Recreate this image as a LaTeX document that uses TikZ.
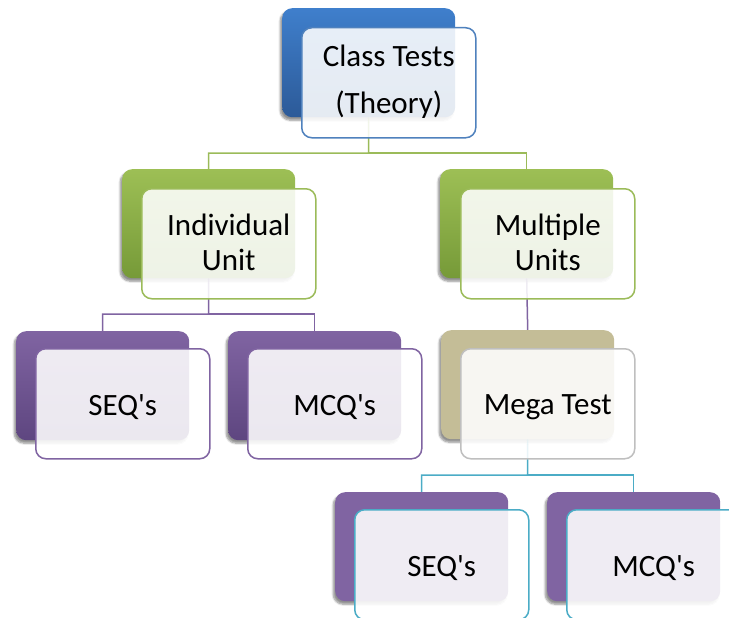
\documentclass[tikz,border=0pt]{standalone}
\usepackage{fontspec}
\setmainfont{Carlito}
\usetikzlibrary{shadows.blur}
\definecolor{bluetop}{HTML}{3F7FCC}
\definecolor{bluebot}{HTML}{2C5A98}
\definecolor{blueline}{HTML}{4F81BD}
\definecolor{greentop}{HTML}{9DBF55}
\definecolor{greenbot}{HTML}{769A38}
\definecolor{greenline}{HTML}{9BBB59}
\definecolor{purptop}{HTML}{8064A2}
\definecolor{purpbot}{HTML}{5E4680}
\definecolor{purpline}{HTML}{8064A2}
\definecolor{tanfill}{HTML}{C4BD97}
\definecolor{grayline}{HTML}{BFBFBF}
\definecolor{cyanline}{HTML}{4BACC6}
\begin{document}
\begin{tikzpicture}[x=1pt,y=-1pt,
  backbox/.style={rounded corners=10pt, minimum width=173pt, minimum height=109pt,
    inner sep=0pt, anchor=north west,
    blur shadow={shadow xshift=-2pt, shadow yshift=-3pt, shadow opacity=25, shadow blur steps=6}},
  frontbox/.style={rounded corners=10pt, minimum width=174pt, minimum height=110pt,
    inner sep=0pt, anchor=north west, fill=white, fill opacity=0.88,
    line width=1.5pt},
  txt/.style={align=center, inner sep=0pt, text=black,
    font=\fontsize{31}{35}\selectfont},
  onetxt/.style={txt, yshift=-3pt},
  twotxt/.style={txt, yshift=1pt},
  conn/.style={line width=1.5pt}]
\clip (0,0) rectangle (729,618);
\useasboundingbox (0,0) rectangle (729,618);

% back box positions
\path
  (282,8)   node[backbox, name=ctB] {}
  (122,169) node[backbox, name=iuB] {}
  (440,169) node[backbox, name=muB] {}
  (16,331)  node[backbox, name=s1B] {}
  (228,331) node[backbox, name=m1B] {}
  (441,330) node[backbox, name=mtB] {}
  (335,492) node[backbox, name=s2B] {}
  (547,492) node[backbox, name=m2B] {};

% connectors
\coordinate (j1) at (368.5,153);
\coordinate (j2) at (208.5,314);
\coordinate (j3) at (527.5,475);
\draw[conn, greenline] (ctB.south) -- (j1) -| (iuB.north);
\draw[conn, greenline] (j1) -| (muB.north);
\draw[conn, purpline] (iuB.south) -- (j2) -| (s1B.north);
\draw[conn, purpline] (j2) -| (m1B.north);
\draw[conn, purpline] (muB.south) -- (mtB.north);
\draw[conn, cyanline] (mtB.south) -- (j3) -| (s2B.north);
\draw[conn, cyanline] (j3) -| (m2B.north);

% back boxes filled
\node[backbox, top color=bluetop, bottom color=bluebot] at (282,8) {};
\node[backbox, top color=greentop, bottom color=greenbot] at (122,169) {};
\node[backbox, top color=greentop, bottom color=greenbot] at (440,169) {};
\node[backbox, top color=purptop, bottom color=purpbot] at (16,331) {};
\node[backbox, top color=purptop, bottom color=purpbot] at (228,331) {};
\node[backbox, fill=tanfill] at (441,330) {};
\node[backbox, fill=purptop] at (335,492) {};
\node[backbox, fill=purptop] at (547,492) {};

% front boxes
\node[frontbox, draw=blueline] (ct) at (301,27) {};
\node[frontbox, draw=greenline] (iu) at (141,188) {};
\node[frontbox, draw=greenline] (mu) at (460,188) {};
\node[frontbox, draw=purpline] (s1) at (35,348) {};
\node[frontbox, draw=purpline] (m1) at (247,348) {};
\node[frontbox, draw=grayline] (mt) at (460,348) {};
\node[frontbox, draw=cyanline] (s2) at (354,509) {};
\node[frontbox, draw=cyanline] (m2) at (566,509) {};

% texts
\node[twotxt] (ctT) at (ct.center) {Class Tests\\[12pt](Theory)};
\node[twotxt] (iuT) at (iu.center) {Individual\\Unit};
\node[twotxt] (muT) at (mu.center) {Multiple\\Units};
\node[onetxt] (s1T) at (s1.center) {SEQ\textquotesingle s};
\node[onetxt] (m1T) at (m1.center) {MCQ\textquotesingle s};
\node[onetxt] (mtT) at (mt.center) {Mega Test};
\node[onetxt] (s2T) at (s2.center) {SEQ\textquotesingle s};
\node[onetxt] (m2T) at (m2.center) {MCQ\textquotesingle s};
\end{tikzpicture}
\end{document}
